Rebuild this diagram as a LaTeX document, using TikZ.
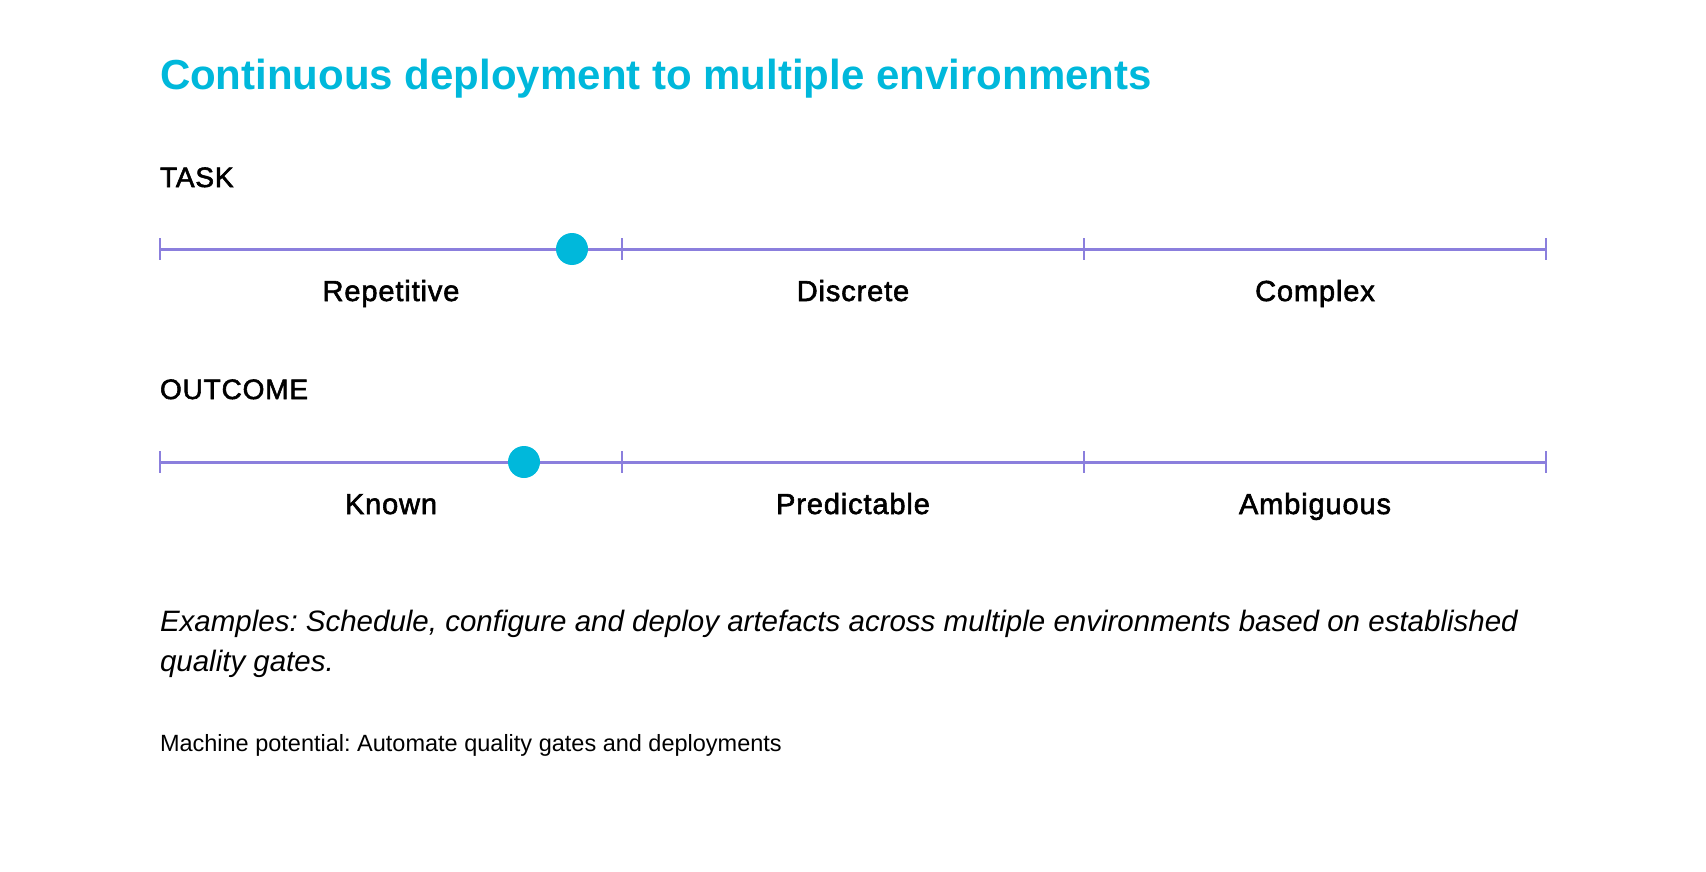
\documentclass[tikz,border=0pt]{standalone}
\usepackage{fontspec}
\setmainfont{Liberation Sans}
\newfontfamily\medfont[FakeBold=2,LetterSpace=3]{Liberation Sans}
\definecolor{accent}{RGB}{0,184,219}
\definecolor{barline}{RGB}{139,127,221}
\frenchspacing
\begin{document}
\begin{tikzpicture}[x=1pt, y=-1pt, every node/.style={inner sep=0pt, outer sep=0pt},
	bar/.style={barline, line width=3pt},
	tick/.style={barline, line width=2.5pt},
	level/.style={anchor=base, font=\medfont\fontsize{29}{34}\selectfont},
	head/.style={anchor=base west, font=\medfont\fontsize{28}{34}\selectfont},
	marker/.style={circle, fill=accent, minimum size=32pt}]
	\useasboundingbox (0,0) rectangle (1706,872);
	
	% 1. 标题
	\node[anchor=base west, text=accent, font=\bfseries\fontsize{42}{50}\selectfont] (title) at (160,90) {Continuous deployment to multiple environments};
	
	% 2. TASK 刻度
	\node[head] (taskhead) at (160,187) {TASK};
	\foreach \i/\x in {0/160, 1/622, 2/1084, 3/1546} {
		\coordinate (ta\i) at (\x,249);
		\draw[tick] (\x,238) -- (\x,260);
	}
	\draw[bar] (ta0) -- (ta3);
	\node[level] (rep) at (391,301) {Repetitive};
	\node[level] (dis) at (853,301) {Discrete};
	\node[level] (cpx) at (1315,301) {Complex};
	\node[marker] (taskdot) at (572,249) {};
	
	% 3. OUTCOME 刻度
	\node[head] (outhead) at (160,399) {OUTCOME};
	\foreach \i/\x in {0/160, 1/622, 2/1084, 3/1546} {
		\coordinate (ou\i) at (\x,462);
		\draw[tick] (\x,451) -- (\x,473);
	}
	\draw[bar] (ou0) -- (ou3);
	\node[level] (kno) at (391,514) {Known};
	\node[level] (pre) at (853,514) {Predictable};
	\node[level] (amb) at (1315,514) {Ambiguous};
	\node[marker] (outdot) at (524,462) {};
	
	% 4. 说明文字 (base = 最后一行)
	\node[anchor=base west, align=left, font=\itshape\fontsize{29.5}{40}\selectfont] (examples) at (160,671)
		{Examples: Schedule, configure and deploy artefacts across multiple environments based on established\\quality gates.};
	\node[anchor=base west, font=\fontsize{23.5}{28}\selectfont] (machine) at (160,751) {Machine potential: Automate quality gates and deployments};
\end{tikzpicture}
\end{document}
